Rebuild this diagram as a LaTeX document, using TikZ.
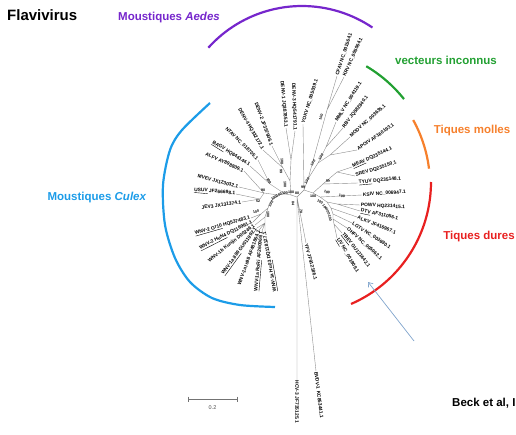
\documentclass[tikz,border=0pt]{standalone}
\usepackage{fontspec}
\setmainfont{Liberation Sans}
\usetikzlibrary{positioning,arrows.meta}
\definecolor{aedes}{RGB}{118,38,204}
\definecolor{unknown}{RGB}{34,160,50}
\definecolor{soft}{RGB}{246,128,44}
\definecolor{hard}{RGB}{232,32,32}
\definecolor{culex}{RGB}{28,156,232}
\definecolor{pointer}{RGB}{128,164,204}

\begin{document}
\begin{tikzpicture}[
    x=1pt, y=-1pt,
    branch/.style={draw=black!45, line width=0.4pt},
    leafr/.style={anchor=west, inner sep=0.7pt, font=\fontsize{4.9}{6}\selectfont\bfseries},
    leafl/.style={anchor=east, inner sep=0.7pt, font=\fontsize{4.9}{6}\selectfont\bfseries},
    boot/.style={inner sep=0pt, font=\fontsize{3.6}{4}\selectfont\bfseries},
    grouplabel/.style={inner sep=0pt, font=\fontsize{11.5}{13}\selectfont\bfseries},
    grouparc/.style={line width=2.2pt},
    pointerline/.style={draw=pointer, line width=0.7pt, -{Straight Barb[length=4pt,width=6pt]}}
]
\useasboundingbox (0,0) rectangle (516,434);

% inner nodes
\coordinate (c0) at (297,197);
\coordinate (cR) at (304,190);
\coordinate (cI) at (308,179);
\coordinate (cfk) at (327,110);
\coordinate (vu) at (318,163);
\coordinate (v1) at (326,147);
\coordinate (v2) at (330,155);
\coordinate (cT) at (313,193);
\coordinate (st) at (323,184);
\coordinate (ms) at (337,172);
\coordinate (ht) at (320,197);
\coordinate (h2) at (327,202);
\coordinate (pd) at (337,204);
\coordinate (h3) at (331,208);
\coordinate (h4) at (333,214);
\coordinate (h5) at (333,219);
\coordinate (h6) at (334,224);
\coordinate (cM) at (291,195);
\coordinate (cD) at (290,181);
\coordinate (d13) at (291,160);
\coordinate (d24) at (283,168);
\coordinate (k1) at (285,194);
\coordinate (nb) at (270,184);
\coordinate (k2) at (278,195);
\coordinate (jn) at (264,193);
\coordinate (j2) at (260,199);
\coordinate (k3) at (271,201);
\coordinate (w0) at (268,208);
\coordinate (w2) at (261,214);
\coordinate (w1) at (265,217);
\coordinate (w1a) at (265,223);

% leaves, right side
\node[leafr, rotate=73](yokv) at (303,124){YOKV NC\_005039.1};
\node[leafr, rotate=72](cfav) at (337,76){CFAV NC\_001564.1};
\node[leafr, rotate=66](krv) at (344,77){KRV NC\_005064.1};
\node[leafr, rotate=58](mmlv) at (336,122){MMLV NC\_004119.1};
\node[leafr, rotate=52](rbv) at (343,128){RBV JQ582840.1};
\node[leafr, rotate=42](modv) at (350,137){MODV NC\_003635.1};
\node[leafr, rotate=35](apoiv) at (357,150){APOIV AF160193.1};
\node[leafr, rotate=24](meav) at (352,167){\underline{MEAV} DQ235144.1};
\node[leafr, rotate=18](srev) at (355,176){SREV DQ235150.1};
\node[leafr, rotate=5](tyuv) at (358,183){\underline{TYUV} DQ235148.1};
\node[leafr, rotate=4](ksiv) at (362,195){KSIV NC\_006947.1};
\node[leafr, rotate=-3](powv) at (360,205){POWV HQ231415.1};
\node[leafr, rotate=-12](dtv) at (360,211){\underline{DTV} AF311056.1};
\node[leafr, rotate=-22](alkv) at (357,217){ALKV JF416967.1};
\node[leafr, rotate=-33](lgtv) at (352,223){LGTV NC\_003690.1};
\node[leafr, rotate=-42](ohfv) at (347,228){OHFV NC\_005062.1};
\node[leafr, rotate=-52](tbev) at (342,233){\underline{TBEV} GU121642.1};
\node[leafr, rotate=-60](liv) at (337,238){\underline{LIV} NC\_001809.1};
\node[leafr, rotate=-75](yfv) at (306,243){YFV JF912186.1};
\node[leafr, rotate=-83](bvdv) at (316,371){BVDV-1 KC853441.1};
\node[leafr, rotate=-90](hcv) at (297,380){HCV-3 JF735125.1};

% leaves, left side
\node[leafl, rotate=-88](denv3) at (295,131){DENV-3 HQ541791.1};
\node[leafl, rotate=-85](denv1) at (286,128){DENV-1 JQ387853.1};
\node[leafl, rotate=-70](denv2) at (272,146){DENV-2 JF357906.1};
\node[leafl, rotate=-60](denv4) at (263,150){DENV-4 HQ332172.1};
\node[leafl, rotate=-45](ntav) at (258,160){NTAV NC\_018705.1};
\node[leafl, rotate=-32](bagv) at (250,166){\underline{BAGV} HQ644144.1};
\node[leafl, rotate=-24](alfv) at (244,171){ALFV AY898809.1};
\node[leafl, rotate=-15](mvev) at (239,187){MVEV JX123032.1};
\node[leafl, rotate=-5](usuv) at (236,194){\underline{USUV} JF266698.1};
\node[leafl, rotate=8](jev3) at (242,202){JEV3 JX131374.1};
\node[leafl, rotate=16](gr10) at (251,218){\underline{WNV-2 Gr10} HQ537483.1};
\node[leafl, rotate=27](hun4) at (253,222){\underline{WNV-2 HuN4} DQ116961.1};
\node[leafl, rotate=38](kunjin) at (255,225){WNV-1b Kunjin D00246.1};
\node[leafl, rotate=54](w889) at (257,228){\underline{WNV-1a 889} GU011992.1};
\node[leafl, rotate=70](ls98) at (259,230){WNV-1a Is98 AF481864.1};
\node[leafl, rotate=85](rori) at (262,231){\underline{WNV-1a RoRi} AF260969.1};
\node[leafl, rotate=100](hu03) at (265,231){\underline{WNV-1a Hu03} DQ118127.1};

% branches
\draw[branch] (c0) -- (hcv.west) (c0) -- (bvdv.west) (c0) -- (yfv.west) (c0) -- (cR) (c0) -- (cM);
\draw[branch] (cR) -- (yokv.west) (cR) -- (cI) (cR) -- (cT);
\draw[branch] (cI) -- (cfk) (cI) -- (vu);
\draw[branch] (cfk) -- (cfav.west) (cfk) -- (krv.west);
\draw[branch] (vu) -- (v1) (vu) -- (v2);
\draw[branch] (v1) -- (mmlv.west) (v1) -- (rbv.west);
\draw[branch] (v2) -- (modv.west) (v2) -- (apoiv.west);
\draw[branch] (cT) -- (st) (cT) -- (ht);
\draw[branch] (st) -- (ms) (st) -- (tyuv.west);
\draw[branch] (ms) -- (meav.west) (ms) -- (srev.west);
\draw[branch] (ht) -- (ksiv.west) (ht) -- (h2);
\draw[branch] (h2) -- (pd) (h2) -- (h3);
\draw[branch] (pd) -- (powv.west) (pd) -- (dtv.west);
\draw[branch] (h3) -- (alkv.west) (h3) -- (h4);
\draw[branch] (h4) -- (lgtv.west) (h4) -- (h5);
\draw[branch] (h5) -- (ohfv.west) (h5) -- (h6);
\draw[branch] (h6) -- (tbev.west) (h6) -- (liv.west);
\draw[branch] (cM) -- (cD) (cM) -- (k1);
\draw[branch] (cD) -- (d13) (cD) -- (d24);
\draw[branch] (d13) -- (denv3.east) (d13) -- (denv1.east);
\draw[branch] (d24) -- (denv2.east) (d24) -- (denv4.east);
\draw[branch] (k1) -- (nb) (k1) -- (k2);
\draw[branch] (nb) -- (ntav.east) (nb) -- (bagv.east);
\draw[branch] (k2) -- (jn) (k2) -- (k3);
\draw[branch] (jn) -- (alfv.east) (jn) -- (mvev.east) (jn) -- (j2);
\draw[branch] (j2) -- (usuv.east) (j2) -- (jev3.east);
\draw[branch] (k3) -- (w0);
\draw[branch] (w0) -- (w2) (w0) -- (w1);
\draw[branch] (w2) -- (gr10.east) (w2) -- (hun4.east);
\draw[branch] (w1) -- (kunjin.east) (w1) -- (w1a);
\draw[branch] (w1a) -- (w889.east) (w1a) -- (ls98.east) (w1a) -- (rori.east) (w1a) -- (hu03.east);

% bootstrap values
\node[boot, rotate=70](bs1) at (321,117){100};
\node[boot, rotate=55](bs2) at (313,163){100};
\node[boot, rotate=55](bs3) at (321,157){100};
\node[boot, rotate=55](bs4) at (307,181){100};
\node[boot](bs5) at (303,187){99};
\node[boot](bs6) at (313,196){100};
\node[boot, rotate=20](bs7) at (328,181){84};
\node[boot, rotate=-12](bs8) at (327,192){100};
\node[boot, rotate=-5](bs9) at (342,196){100};
\node[boot, rotate=-30](bs10) at (320,202){100};
\node[boot, rotate=-50](bs11) at (325,207){100};
\node[boot, rotate=-65](bs12) at (328,212){100};
\node[boot, rotate=-75](bs13) at (330,218){100};
\node[boot](bs14) at (297,193){80};
\node[boot](bs15) at (291,192){100};
\node[boot, rotate=10](bs16) at (285,193){100};
\node[boot, rotate=22](bs17) at (279,195){100};
\node[boot, rotate=38](bs18) at (274,198){100};
\node[boot, rotate=55](bs19) at (271,204){100};
\node[boot, rotate=-90](bs20) at (282,161){100};
\node[boot, rotate=-90](bs21) at (281,171){99};
\node[boot, rotate=-90](bs22) at (285,184){100};
\node[boot, rotate=-60](bs23) at (269,181){100};
\node[boot](bs24) at (263,190){90};
\node[boot](bs25) at (258,201){52};
\node[boot, rotate=15](bs26) at (256,212){100};
\node[boot, rotate=-90](bs27) at (268,214){100};
\node[boot, rotate=-90](bs28) at (293,203){84};
\node[boot, rotate=-90](bs29) at (301,211){78};

% host groups
\draw[grouparc, aedes] plot[domain=138:56, samples=40] ({302+126*cos(\x)}, {132-126*sin(\x)});
\draw[grouparc, unknown] plot[domain=59.4:38.5, samples=20] ({296+138*cos(\x)}, {185-138*sin(\x)});
\draw[grouparc, soft] plot[domain=29:7, samples=20] ({296+134*cos(\x)}, {185-134*sin(\x)});
\draw[grouparc, hard] plot[domain=0:-66.5, samples=40] ({298+133*cos(\x)}, {182-133*sin(\x)});
\draw[grouparc, culex] plot[smooth] coordinates {(210,103) (182,130) (170,150) (163,185) (165,225) (175,258) (190,282) (212,298) (240,305) (275,307)};

\node[grouplabel, text=aedes](aedeslabel) at (169,18){Moustiques \textit{Aedes}};
\node[grouplabel, text=unknown](unknownlabel) at (446,60){vecteurs inconnus};
\node[grouplabel, text=soft](softlabel) at (472,131){Tiques molles};
\node[grouplabel, text=hard](hardlabel) at (479,237){Tiques dures};
\node[grouplabel, text=culex](culexlabel) at (97,198){Moustiques \textit{Culex}};
\node[anchor=west, inner sep=0pt, font=\fontsize{15}{17}\selectfont\bfseries](title) at (7,15.5){Flavivirus};
\node[anchor=west, inner sep=0pt, font=\fontsize{11.5}{13}\selectfont\bfseries](source) at (452,403){Beck et al, I};

% pointer
\coordinate (ptail) at (414,341);
\coordinate (phead) at (368,282);
\draw[pointerline] (ptail) -- (phead);

% scale bar
\coordinate (sbl) at (188,399);
\coordinate (sbr) at (237,399);
\draw[black!55, line width=0.5pt] (sbl) -- (sbr);
\draw[black!55, line width=0.5pt] ([yshift=2.5pt]sbl) -- ([yshift=-2.5pt]sbl);
\draw[black!55, line width=0.5pt] ([yshift=2.5pt]sbr) -- ([yshift=-2.5pt]sbr);
\node[font=\fontsize{5.5}{6}\selectfont, text=black!70, inner sep=0pt](sblabel) at (212.5,408){0.2};
\end{tikzpicture}
\end{document}
